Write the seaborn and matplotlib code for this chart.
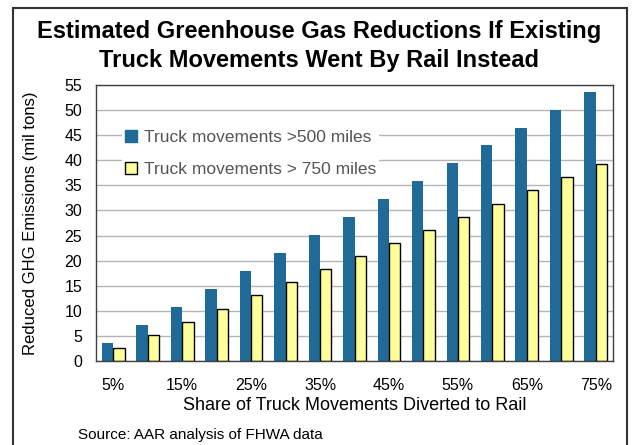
import matplotlib
matplotlib.use("Agg")
import pandas as pd
import seaborn as sns
from matplotlib import pyplot as plt
from matplotlib.patches import Rectangle, Patch

# data
shares = ["5%", "10%", "15%", "20%", "25%", "30%", "35%", "40%",
          "45%", "50%", "55%", "60%", "65%", "70%", "75%"]
over_500 = [3.6, 7.2, 10.7, 14.3, 17.9, 21.5, 25.1, 28.6,
            32.2, 35.8, 39.4, 43.0, 46.5, 50.1, 53.7]
over_750 = [2.6, 5.2, 7.8, 10.4, 13.1, 15.7, 18.3, 20.9,
            23.5, 26.1, 28.7, 31.3, 34.0, 36.6, 39.2]
series_names = ["Truck movements >500 miles", "Truck movements > 750 miles"]
colors = ["#1F6A96", "#FFFF99"]

df = pd.DataFrame({
    "share": shares * 2,
    "value": over_500 + over_750,
    "series": [series_names[0]] * len(shares) + [series_names[1]] * len(shares),
})

sns.set_theme(style="white")
plt.rcParams["font.family"] = ["Liberation Sans", "DejaVu Sans"]
plt.rcParams["text.color"] = "black"
plt.rcParams["axes.labelcolor"] = "black"

fig = plt.figure(figsize=(6.34, 4.45), dpi=100)
ax = fig.add_axes([96 / 634, 1 - 361 / 445, 517 / 634, 276 / 445])

sns.barplot(data=df, x="share", y="value", hue="series", order=shares,
            hue_order=series_names, palette=colors, width=0.66,
            saturation=1, legend=False, ax=ax)
for bar in ax.containers[1]:
    bar.set_edgecolor("black")
    bar.set_linewidth(1.0)
for bar in ax.containers[0]:
    bar.set_linewidth(0)

ax.set_xlim(-0.5, len(shares) - 0.5)
ax.set_ylim(0, 55)
ax.set_yticks(range(0, 56, 5))
ax.set_xticks(range(0, len(shares), 2))
ax.set_xticklabels(shares[::2])
ax.tick_params(axis="both", length=0, labelsize=11.5, labelcolor="black")
ax.tick_params(axis="y", pad=10)
ax.tick_params(axis="x", pad=12)
ax.yaxis.grid(True, color="#b5b5b5", linewidth=1)
ax.set_axisbelow(True)
for s in ax.spines.values():
    s.set_visible(True)
    s.set_color("#404040")
    s.set_linewidth(1)

ax.set_xlabel("Share of Truck Movements Diverted to Rail", fontsize=13, labelpad=3)
ax.set_ylabel("Reduced GHG Emissions (mil tons)", fontsize=12, labelpad=19)

handles = [Patch(facecolor=colors[0], edgecolor=colors[0]),
           Patch(facecolor=colors[1], edgecolor="black")]
leg = ax.legend(handles, series_names, loc="upper left",
                bbox_to_anchor=(0.05, 0.85), frameon=True, fontsize=12.5,
                handlelength=0.65, handleheight=0.65, handletextpad=0.4,
                labelspacing=1.0, borderpad=0.2, borderaxespad=0)
leg.get_frame().set_facecolor("white")
leg.get_frame().set_edgecolor("none")
leg.get_frame().set_alpha(1)
for t in leg.get_texts():
    t.set_color("#555555")

fig.text(0.503, 0.897, "Estimated Greenhouse Gas Reductions If Existing\nTruck Movements Went By Rail Instead",
         ha="center", va="center", fontsize=17, fontweight="bold", linespacing=1.3)
fig.text(78 / 634, 1 - 435 / 445, "Source: AAR analysis of FHWA data",
         ha="left", va="center", fontsize=11)

fig.patches.append(Rectangle((13 / 634, -0.05), 614 / 634, 1.05 - 8 / 445,
                             transform=fig.transFigure, fill=False,
                             edgecolor="#333333", linewidth=1.5))

fig.savefig("out.png", dpi=100)
